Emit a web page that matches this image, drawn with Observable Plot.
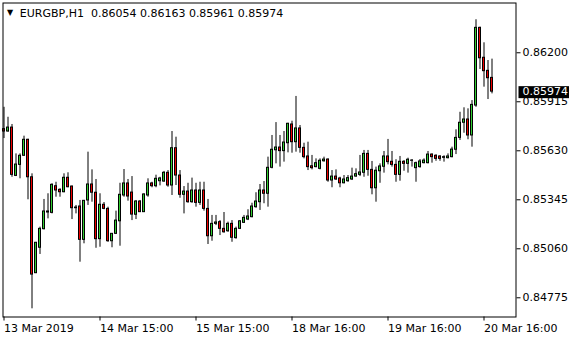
<!DOCTYPE html>
<html><head><meta charset="utf-8">
<script src="https://cdn.jsdelivr.net/npm/d3@7"></script>
<script src="https://cdn.jsdelivr.net/npm/@observablehq/plot@0.6"></script>
<style>html,body{margin:0;padding:0;background:#fff}svg{display:block}</style>
</head><body><div id="chart"></div>
<script>
const symbol = "EURGBP,H1";
const opens = [0.85756,0.85742,0.85765,0.85484,0.85548,0.85601,0.85694,0.85476,0.84918,0.85066,
0.85174,0.85271,0.85269,0.85424,0.85403,0.85389,0.85473,0.85422,0.85300,0.85306,
0.85112,0.85341,0.85434,0.85386,0.85116,0.85316,0.85292,0.85104,0.85147,0.85220,
0.85370,0.85440,0.85387,0.85258,0.85335,0.85273,0.85370,0.85440,0.85424,0.85453,
0.85451,0.85502,0.85428,0.85645,0.85486,0.85374,0.85393,0.85331,0.85399,0.85327,
0.85399,0.85292,0.85133,0.85205,0.85215,0.85176,0.85162,0.85205,0.85122,0.85176,
0.85211,0.85230,0.85244,0.85302,0.85331,0.85399,0.85380,0.85531,0.85633,0.85649,
0.85628,0.85674,0.85783,0.85680,0.85760,0.85647,0.85597,0.85540,0.85535,0.85525,
0.85569,0.85579,0.85457,0.85480,0.85469,0.85441,0.85453,0.85463,0.85480,0.85490,
0.85502,0.85612,0.85519,0.85412,0.85511,0.85537,0.85597,0.85566,0.85548,0.85490,
0.85566,0.85554,0.85573,0.85529,0.85535,0.85558,0.85558,0.85608,0.85601,0.85597,
0.85589,0.85587,0.85593,0.85636,0.85705,0.85793,0.85812,0.85719,0.85893,0.86345,
0.86171,0.86095,0.86054];
const highs = [0.85883,0.85825,0.85783,0.85612,0.85612,0.85715,0.85697,0.85496,0.85097,0.85186,
0.85347,0.85380,0.85438,0.85447,0.85409,0.85496,0.85502,0.85425,0.85312,0.85341,
0.85341,0.85622,0.85519,0.85463,0.85380,0.85329,0.85302,0.85147,0.85279,0.85441,
0.85521,0.85463,0.85480,0.85341,0.85341,0.85380,0.85467,0.85447,0.85488,0.85476,
0.85510,0.85515,0.85742,0.85709,0.85515,0.85422,0.85441,0.85471,0.85441,0.85447,
0.85447,0.85347,0.85254,0.85254,0.85224,0.85271,0.85215,0.85224,0.85186,0.85224,
0.85254,0.85287,0.85325,0.85386,0.85434,0.85451,0.85593,0.85719,0.85794,0.85719,
0.85742,0.85790,0.85802,0.85946,0.85777,0.85674,0.85680,0.85603,0.85583,0.85583,
0.85593,0.85583,0.85515,0.85519,0.85476,0.85486,0.85486,0.85529,0.85525,0.85603,
0.85632,0.85632,0.85568,0.85535,0.85554,0.85626,0.85696,0.85626,0.85578,0.85597,
0.85573,0.85587,0.85579,0.85564,0.85579,0.85583,0.85626,0.85612,0.85607,0.85601,
0.85601,0.85612,0.85651,0.85752,0.85854,0.85880,0.85874,0.85922,0.86392,0.86349,
0.86258,0.86155,0.86163];
const lows = [0.85701,0.85738,0.85476,0.85480,0.85467,0.85597,0.85345,0.84711,0.84916,0.85027,
0.85170,0.85234,0.85263,0.85360,0.85360,0.85386,0.85415,0.85230,0.85263,0.84982,
0.85089,0.85312,0.85331,0.85063,0.85069,0.85287,0.85098,0.85066,0.85143,0.85075,
0.85360,0.85337,0.85224,0.85230,0.85271,0.85271,0.85360,0.85415,0.85415,0.85426,
0.85447,0.85418,0.85370,0.85428,0.85354,0.85263,0.85325,0.85325,0.85302,0.85312,
0.85279,0.85085,0.85104,0.85195,0.85137,0.85151,0.85156,0.85098,0.85116,0.85172,
0.85207,0.85224,0.85240,0.85296,0.85283,0.85322,0.85302,0.85525,0.85554,0.85535,
0.85564,0.85618,0.85616,0.85622,0.85616,0.85583,0.85515,0.85519,0.85531,0.85519,
0.85564,0.85447,0.85415,0.85457,0.85415,0.85438,0.85447,0.85457,0.85476,0.85480,
0.85476,0.85482,0.85374,0.85331,0.85441,0.85500,0.85548,0.85535,0.85447,0.85453,
0.85511,0.85500,0.85535,0.85447,0.85529,0.85554,0.85554,0.85558,0.85569,0.85569,
0.85564,0.85583,0.85589,0.85608,0.85690,0.85732,0.85694,0.85651,0.85883,0.86103,
0.86000,0.85928,0.85961];
const closes = [0.85742,0.85765,0.85490,0.85550,0.85601,0.85694,0.85476,0.84910,0.85095,0.85176,
0.85277,0.85277,0.85432,0.85399,0.85389,0.85473,0.85418,0.85296,0.85296,0.85112,
0.85339,0.85434,0.85386,0.85116,0.85316,0.85292,0.85104,0.85147,0.85224,0.85374,
0.85440,0.85364,0.85259,0.85335,0.85273,0.85376,0.85440,0.85424,0.85467,0.85469,
0.85502,0.85428,0.85645,0.85486,0.85374,0.85393,0.85331,0.85399,0.85327,0.85399,
0.85292,0.85133,0.85205,0.85213,0.85176,0.85156,0.85205,0.85124,0.85176,0.85220,
0.85240,0.85248,0.85306,0.85335,0.85399,0.85380,0.85531,0.85636,0.85649,0.85628,
0.85678,0.85787,0.85680,0.85760,0.85647,0.85593,0.85535,0.85529,0.85558,0.85572,
0.85579,0.85457,0.85480,0.85463,0.85441,0.85463,0.85471,0.85480,0.85494,0.85504,
0.85612,0.85519,0.85412,0.85514,0.85539,0.85597,0.85564,0.85548,0.85490,0.85566,
0.85554,0.85578,0.85572,0.85558,0.85568,0.85573,0.85608,0.85593,0.85583,0.85583,
0.85593,0.85597,0.85637,0.85705,0.85793,0.85812,0.85719,0.85897,0.86345,0.86168,
0.86093,0.86052,0.85974];
const xTickBars = [0, 24, 48, 72, 96, 120];
const xTickLabels = ["13 Mar 2019", "14 Mar 15:00", "15 Mar 15:00", "18 Mar 16:00", "19 Mar 16:00", "20 Mar 16:00"];
const yTicks = [0.84775, 0.85060, 0.85345, 0.85630, 0.85915, 0.86200];

const bullColor = "#32cd32";
const bearColor = "#ee0000";

const candles = opens.map((o, i) => ({i, open: o, high: highs[i], low: lows[i], close: closes[i], up: closes[i] >= o}));
const last = candles[candles.length - 1];
const lastLabel = last.close.toFixed(5);
const header = `${symbol}\u00a0\u00a0${[last.open, last.high, last.low, last.close].map(v => v.toFixed(5)).join(" ")}`;

const bodyX1 = d => d.i - 0.375;
const bodyX2 = d => d.i + 0.375;

const plot = Plot.plot({
  width: 580,
  height: 340,
  marginLeft: 2.5,
  marginRight: 64.5,
  marginTop: 2.5,
  marginBottom: 23.5,
  style: {fontFamily: "DejaVu Sans", fontSize: "11px", background: "#fff", color: "#000"},
  x: {type: "linear", domain: [-0.25, 128], axis: null},
  y: {domain: [0.846633, 0.864895], axis: null},
  marks: [
    Plot.ruleX(candles, {x: "i", y1: "low", y2: "high", stroke: "#000", strokeWidth: 1}),
    Plot.rect(candles, {x1: bodyX1, x2: bodyX2, y1: "open", y2: "close", fill: "#000", insetTop: -0.5, insetBottom: -0.5}),
    Plot.rect(candles, {filter: d => d.up, x1: bodyX1, x2: bodyX2, y1: "open", y2: "close", fill: bullColor, insetLeft: 1, insetRight: 1, insetTop: 0.5, insetBottom: 0.5}),
    Plot.rect(candles, {filter: d => !d.up, x1: bodyX1, x2: bodyX2, y1: "open", y2: "close", fill: bearColor, insetLeft: 1, insetRight: 1, insetTop: 0.5, insetBottom: 0.5}),
    Plot.frame({stroke: "#000", strokeWidth: 1}),
    Plot.axisY(yTicks, {anchor: "right", tickSize: 4, tickPadding: 2.5, tickFormat: d => d.toFixed(5), label: null, stroke: "#000", fill: "#000", fontSize: 11}),
    Plot.axisX(xTickBars, {anchor: "bottom", tickSize: 4, tickPadding: 3.5, tickFormat: d => xTickLabels[xTickBars.indexOf(d)], textAnchor: "start", label: null, stroke: "#000", fill: "#000", fontSize: 11}),
    Plot.text([last], {y: "close", frameAnchor: "right", dx: 6.5, textAnchor: "start", text: () => lastLabel, fill: "#fff", fontSize: 11}),
    Plot.text(["\u25BC"], {frameAnchor: "top-left", dx: 7, dy: 9.5, textAnchor: "middle", lineAnchor: "middle", fontSize: 8, fill: "#000"}),
    Plot.text([header], {frameAnchor: "top-left", dx: 16.8, dy: 6.4, textAnchor: "start", lineAnchor: "top", fontSize: 11, fill: "#000"})
  ]
});
document.getElementById("chart").appendChild(plot);

// black background box behind the current price label, in the label's own coordinates
const texts = Array.from(plot.querySelectorAll("text"));
const labelNode = texts.find(t => t.textContent === lastLabel && t.getAttribute("fill") === "#fff")
  || texts.find(t => t.textContent === lastLabel);
if (labelNode) {
  const bb = labelNode.getBBox();
  const rect = document.createElementNS("http://www.w3.org/2000/svg", "rect");
  const tf = labelNode.getAttribute("transform");
  if (tf) rect.setAttribute("transform", tf);
  rect.setAttribute("x", bb.x - 4);
  rect.setAttribute("y", bb.y + 1);
  rect.setAttribute("width", bb.width + 5);
  rect.setAttribute("height", 12);
  rect.setAttribute("fill", "#000");
  labelNode.parentNode.insertBefore(rect, labelNode);
  labelNode.setAttribute("fill", "#fff");
}
</script>
</body></html>
